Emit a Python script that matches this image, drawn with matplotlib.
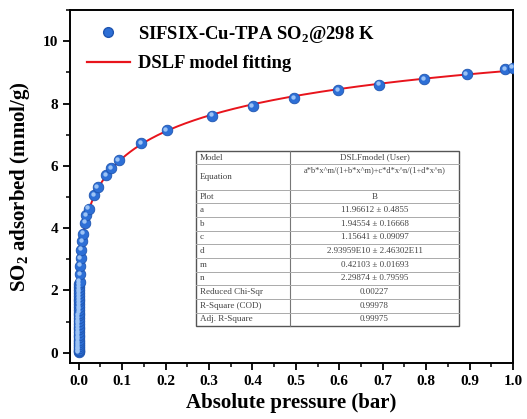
import numpy as np
import matplotlib
matplotlib.use("Agg")
import matplotlib.pyplot as plt
from matplotlib.lines import Line2D
from matplotlib.ticker import MultipleLocator
from matplotlib import transforms

plt.rcParams["font.family"] = ["Liberation Serif", "DejaVu Serif"]
plt.rcParams["mathtext.fontset"] = "custom"
plt.rcParams["mathtext.rm"] = "Liberation Serif:bold"
plt.rcParams["mathtext.bf"] = "Liberation Serif:bold"

# measured isotherm (bar, mmol/g)
pressure = [0.0000, 0.0000, 0.0000, 0.0001, 0.0001, 0.0001, 0.0001, 0.0002, 0.0002,
            0.0002, 0.0003, 0.0003, 0.0003, 0.0004, 0.0004, 0.0005, 0.0005, 0.0006,
            0.0007, 0.0008, 0.0009, 0.0010, 0.0011, 0.0012, 0.0013, 0.0015, 0.0017,
            0.0019, 0.0022, 0.0030, 0.0040, 0.0050, 0.0065, 0.0080, 0.0100, 0.0145,
            0.0180, 0.0230, 0.0360, 0.0440, 0.0630, 0.0750, 0.0920, 0.1440, 0.2030,
            0.3070, 0.4010, 0.4960, 0.5980, 0.6920, 0.7950, 0.8930, 0.9820, 0.9990]
uptake = [0.02, 0.05, 0.09, 0.14, 0.20, 0.27, 0.34, 0.42, 0.50,
          0.58, 0.66, 0.75, 0.84, 0.93, 1.02, 1.11, 1.20, 1.29,
          1.38, 1.47, 1.56, 1.65, 1.74, 1.83, 1.92, 2.01, 2.10,
          2.19, 2.28, 2.52, 2.79, 3.04, 3.31, 3.57, 3.82, 4.17,
          4.41, 4.62, 5.05, 5.32, 5.69, 5.93, 6.18, 6.73, 7.14,
          7.61, 7.91, 8.17, 8.42, 8.61, 8.78, 8.95, 9.11, 9.15]

# DSLF fit parameters (from the inset table)
fit_a, fit_b, fit_c, fit_d, fit_m, fit_n = 11.96612, 1.94554, 1.15641, 2.93959e10, 0.42103, 2.29874

table_labels = ["Model", "Equation", "Plot", "a", "b", "c", "d", "m", "n",
                "Reduced Chi-Sqr", "R-Square (COD)", "Adj. R-Square"]
table_values = ["DSLFmodel (User)",
                "a*b*x^m/(1+b*x^m)+c*d*x^n/(1+d*x^n)",
                "B",
                "11.96612 \u00b1 0.4855",
                "1.94554 \u00b1 0.16668",
                "1.15641 \u00b1 0.09097",
                "2.93959E10 \u00b1 2.46302E11",
                "0.42103 \u00b1 0.01693",
                "2.29874 \u00b1 0.79595",
                "0.00227",
                "0.99978",
                "0.99975"]


def dslf(x):
    xm = x ** fit_m
    xn = x ** fit_n
    return fit_a * fit_b * xm / (1 + fit_b * xm) + fit_c * fit_d * xn / (1 + fit_d * xn)


fig = plt.figure(figsize=(5.27, 4.19), dpi=100)
ax = fig.add_axes([0.1328, 0.1337, 0.8406, 0.8423])

xfit = np.concatenate([np.logspace(-8, -2, 400), np.linspace(0.0101, 1.0, 400)])
ax.plot(xfit, dslf(xfit), color="#e8141c", lw=1.4, zorder=2)

ax.scatter(pressure, uptake, s=58, color="#2d6fd6", edgecolors="#1f55b0",
           linewidths=0.6, zorder=3)
shift = transforms.offset_copy(ax.transData, fig=fig, x=-1.4, y=1.4, units="dots")
ax.scatter(pressure, uptake, s=10, color="#9cc3f5", linewidths=0,
           transform=shift, zorder=4)

ax.set_xlim(-0.02, 1.0)
ax.set_ylim(-0.33, 11.0)
ax.xaxis.set_major_locator(MultipleLocator(0.1))
ax.xaxis.set_minor_locator(MultipleLocator(0.05))
ax.yaxis.set_major_locator(MultipleLocator(2))
ax.yaxis.set_minor_locator(MultipleLocator(1))
ax.set_xticks(np.arange(0, 1.01, 0.1))
ax.set_xticklabels([f"{v:.1f}" for v in np.arange(0, 1.01, 0.1)])
ax.tick_params(which="major", direction="out", length=5, width=1.3,
               labelsize=11, top=False, right=False)
ax.tick_params(which="minor", direction="out", length=3, width=1.1,
               top=False, right=False)
for lab in ax.get_xticklabels() + ax.get_yticklabels():
    lab.set_fontweight("bold")
for sp in ax.spines.values():
    sp.set_linewidth(1.4)

ax.set_xlabel("Absolute pressure (bar)", fontsize=15, fontweight="bold", labelpad=4)
ax.set_ylabel(r"SO$_2$ adsorbed (mmol/g)", fontsize=15, fontweight="bold", labelpad=8)

handles = [
    Line2D([], [], marker="o", ls="none", markersize=7, color="#2d6fd6",
           markeredgecolor="#1f55b0"),
    Line2D([], [], color="#e8141c", lw=1.6),
]
ax.legend(handles, [r"SIFSIX-Cu-TPA SO$_2$@298 K", "DSLF model fitting"],
          loc="upper left", bbox_to_anchor=(0.0, 1.008), frameon=False,
          prop={"weight": "bold", "size": 13.4}, handlelength=2.3,
          handletextpad=0.45, labelspacing=0.55)

# fit result table
tab = fig.add_axes([0.3713, 0.222, 0.4996, 0.4184])
tab.set_xlim(0, 1)
tab.set_ylim(0, 1)
tab.axis("off")
edges = [0, 41, 118, 158, 199, 240, 281, 322, 363, 404, 445, 486, 526]
edges = [1 - e / 526 for e in edges]
col = 0.358
tab.add_patch(plt.Rectangle((0, 0), 1, 1, fill=False, ec="#555555", lw=1.0,
                            clip_on=False))
tab.plot([col, col], [0, 1], color="#777777", lw=0.8, clip_on=False)
for e in edges[1:-1]:
    tab.plot([0, 1], [e, e], color="#aaaaaa", lw=0.7, clip_on=False)
for i, (lab, val) in enumerate(zip(table_labels, table_values)):
    top, bot = edges[i], edges[i + 1]
    mid = (top + bot) / 2
    tab.text(0.015, mid, lab, fontsize=6.5, color="#444444", va="center", ha="left")
    if lab == "Equation":
        tab.text((col + 1) / 2, top - 0.012, val, fontsize=6, color="#444444",
                 va="top", ha="center")
    else:
        tab.text((col + 1) / 2, mid, val, fontsize=6.5, color="#444444",
                 va="center", ha="center")

fig.savefig("out.png", dpi=100)
